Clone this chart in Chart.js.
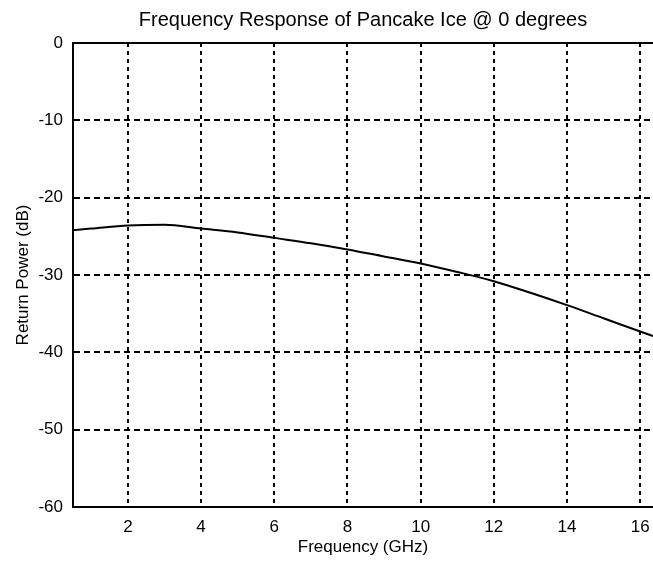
<!DOCTYPE html>
<html>
<head>
<meta charset="utf-8">
<script src="https://cdn.jsdelivr.net/npm/chart.js@4/dist/chart.umd.min.js"></script>
<style>
  body { margin: 0; background: #fff; }
  #wrap { width: 653px; height: 562px; }
</style>
</head>
<body>
<div id="wrap"><canvas id="c" width="653" height="562"></canvas></div>
<script>
// values
var freqGHz = [0.5, 1, 2, 3, 4, 5, 6, 7, 8, 9, 10, 11, 12, 13, 14, 15, 16, 16.35];
var returnPowerDb = [-24.2, -24.0, -23.6, -23.5, -24.0, -24.5, -25.2, -25.9, -26.7, -27.6, -28.5, -29.6, -30.8, -32.3, -33.9, -35.6, -37.3, -37.9];
var xTicks = [2, 4, 6, 8, 10, 12, 14, 16];
var yTicks = [0, -10, -20, -30, -40, -50, -60];

var points = freqGHz.map(function (f, i) { return { x: f, y: returnPowerDb[i] }; });

// solid top frame line (matlab box)
var frameTop = {
    id: 'frameTop',
    afterDraw: function (chart) {
        var a = chart.chartArea, ctx = chart.ctx;
        ctx.save();
        ctx.strokeStyle = '#000';
        ctx.lineWidth = 2;
        ctx.beginPath();
        ctx.moveTo(a.left, a.top);
        ctx.lineTo(a.right, a.top);
        ctx.stroke();
        ctx.restore();
    }
};

Chart.defaults.font.family = "'Liberation Sans', Arial, sans-serif";
Chart.defaults.color = '#000';

function createChart(ctx) {
    var chartHandler = new Chart(ctx, {
        type: 'line',
        data: {
            datasets: [
                {
                    label: 'Return Power',
                    data: points,
                    borderWidth: 2,
                    borderColor: '#000000',
                    pointRadius: 0,
                    cubicInterpolationMode: 'monotone',
                    fill: false
                }
            ]
        },
        options: {
            responsive: false,
            animation: false,
            layout: { padding: 0 },
            plugins: {
                legend: { display: false },
                tooltip: { enabled: false },
                title: {
                    display: true,
                    fullSize: false,
                    text: 'Frequency Response of Pancake Ice @ 0 degrees',
                    font: { size: 20, weight: 'normal' },
                    padding: { top: 8, bottom: 11 }
                }
            },
            scales: {
                x: {
                    type: 'linear',
                    min: 0.5,
                    max: 16.35,
                    afterBuildTicks: function (s) { s.ticks = xTicks.map(function (v) { return { value: v }; }); },
                    afterFit: function (s) { s.height = 55; s.paddingRight = 0; },
                    grid: { color: '#000', lineWidth: 2, drawTicks: false },
                    border: { display: true, color: '#000', width: 2, dash: [4, 4] },
                    ticks: { font: { size: 17 }, padding: 10, maxRotation: 0 },
                    title: { display: true, text: 'Frequency (GHz)', font: { size: 17 }, padding: { top: 0, bottom: 4 } }
                },
                y: {
                    min: -60,
                    max: 0,
                    afterBuildTicks: function (s) { s.ticks = yTicks.map(function (v) { return { value: v }; }); },
                    afterFit: function (s) { s.width = 73; },
                    grid: { color: '#000', lineWidth: 2, drawTicks: false },
                    border: { display: true, color: '#000', width: 2, dash: [6, 4] },
                    ticks: { font: { size: 17 }, padding: 10 },
                    title: { display: true, text: 'Return Power (dB)', font: { size: 17 }, padding: { top: 13, bottom: 0 } }
                }
            }
        },
        plugins: [frameTop]
    });
    return chartHandler;
}

createChart(document.getElementById('c'));
</script>
</body>
</html>
